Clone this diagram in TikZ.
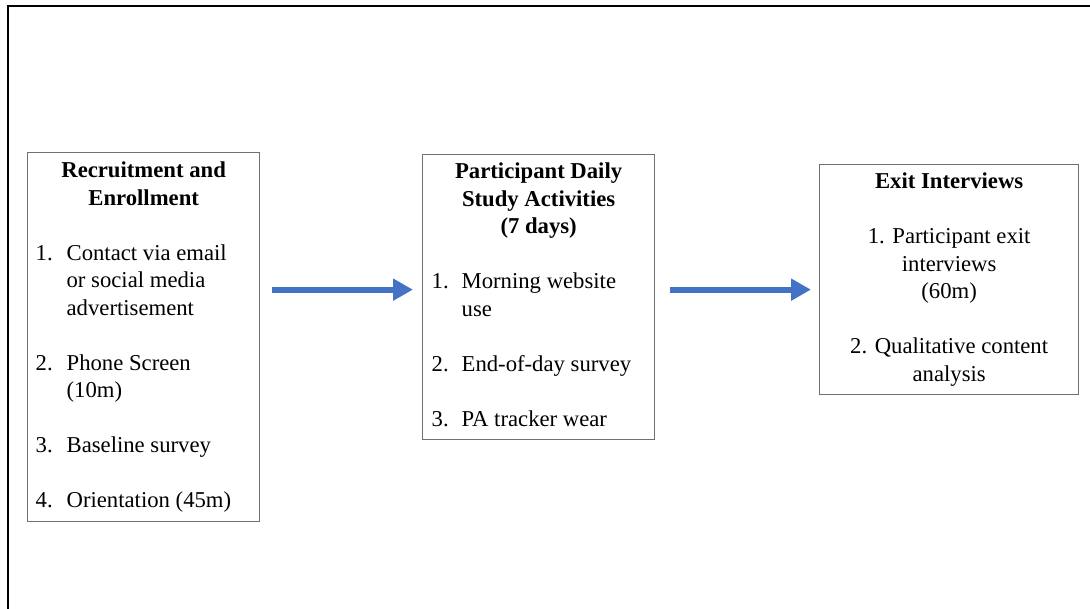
\documentclass[tikz,border=0pt]{standalone}
\usepackage{fontspec}
\setmainfont{Liberation Serif}
\usepackage{array}
\usepackage{xcolor}
\usepackage{tikz}
\usetikzlibrary{arrows.meta}
\definecolor{flowblue}{HTML}{4472C4}
\definecolor{boxgray}{HTML}{707070}

\begin{document}
\begin{tikzpicture}[x=1pt,y=1pt,
stage/.style={draw=boxgray,line width=1.3pt,inner sep=0pt,anchor=north west,
  font=\fontsize{22.7}{27.5}\selectfont},
flow/.style={draw=flowblue,line width=6pt,-{Triangle[length=20pt,width=21pt]}}
]
\useasboundingbox (0,0) rectangle (1090,-609);
\draw[line width=1.8pt] (8,-609) -- (8,-6) -- (1090,-6);

\node[stage,minimum width=232pt,minimum height=369pt] (rec) at (27,-152) {%
\begin{tabular}{@{}p{31pt}@{}p{185pt}@{}}
\multicolumn{2}{@{}c@{}}{\textbf{Recruitment and}}\\
\multicolumn{2}{@{}c@{}}{\textbf{Enrollment}}\\
 & \\
1. & Contact via email\\
 & or social media\\
 & advertisement\\
 & \\
2. & Phone Screen\\
 & (10m)\\
 & \\
3. & Baseline survey\\
 & \\
4. & Orientation (45m)
\end{tabular}};

\node[stage,minimum width=232pt,minimum height=285pt] (daily) at (422,-154) {%
\begin{tabular}{@{}p{30pt}@{}p{184pt}@{}}
\multicolumn{2}{@{}c@{}}{\textbf{Participant Daily}}\\
\multicolumn{2}{@{}c@{}}{\textbf{Study Activities}}\\
\multicolumn{2}{@{}c@{}}{\textbf{(7 days)}}\\
 & \\
1. & Morning website\\
 & use\\
 & \\
2. & End-of-day survey\\
 & \\
3. & PA tracker wear
\end{tabular}};

\node[stage,minimum width=259pt,minimum height=230pt] (exit) at (819,-164) {%
\begin{tabular}{@{}c@{}}
\textbf{Exit Interviews}\\
\\
1. Participant exit\\
interviews\\
(60m)\\
\\
2. Qualitative content\\
analysis
\end{tabular}};

% arrows between stages
\draw[flow] ([xshift=12pt,yshift=7.5pt]rec.east |- daily.west) -- ([xshift=-9pt,yshift=7.5pt]daily.west);
\draw[flow] ([xshift=15pt,yshift=7.5pt]daily.east) -- ([xshift=-8pt,yshift=7.5pt]exit.west |- daily.east);
\end{tikzpicture}
\end{document}
